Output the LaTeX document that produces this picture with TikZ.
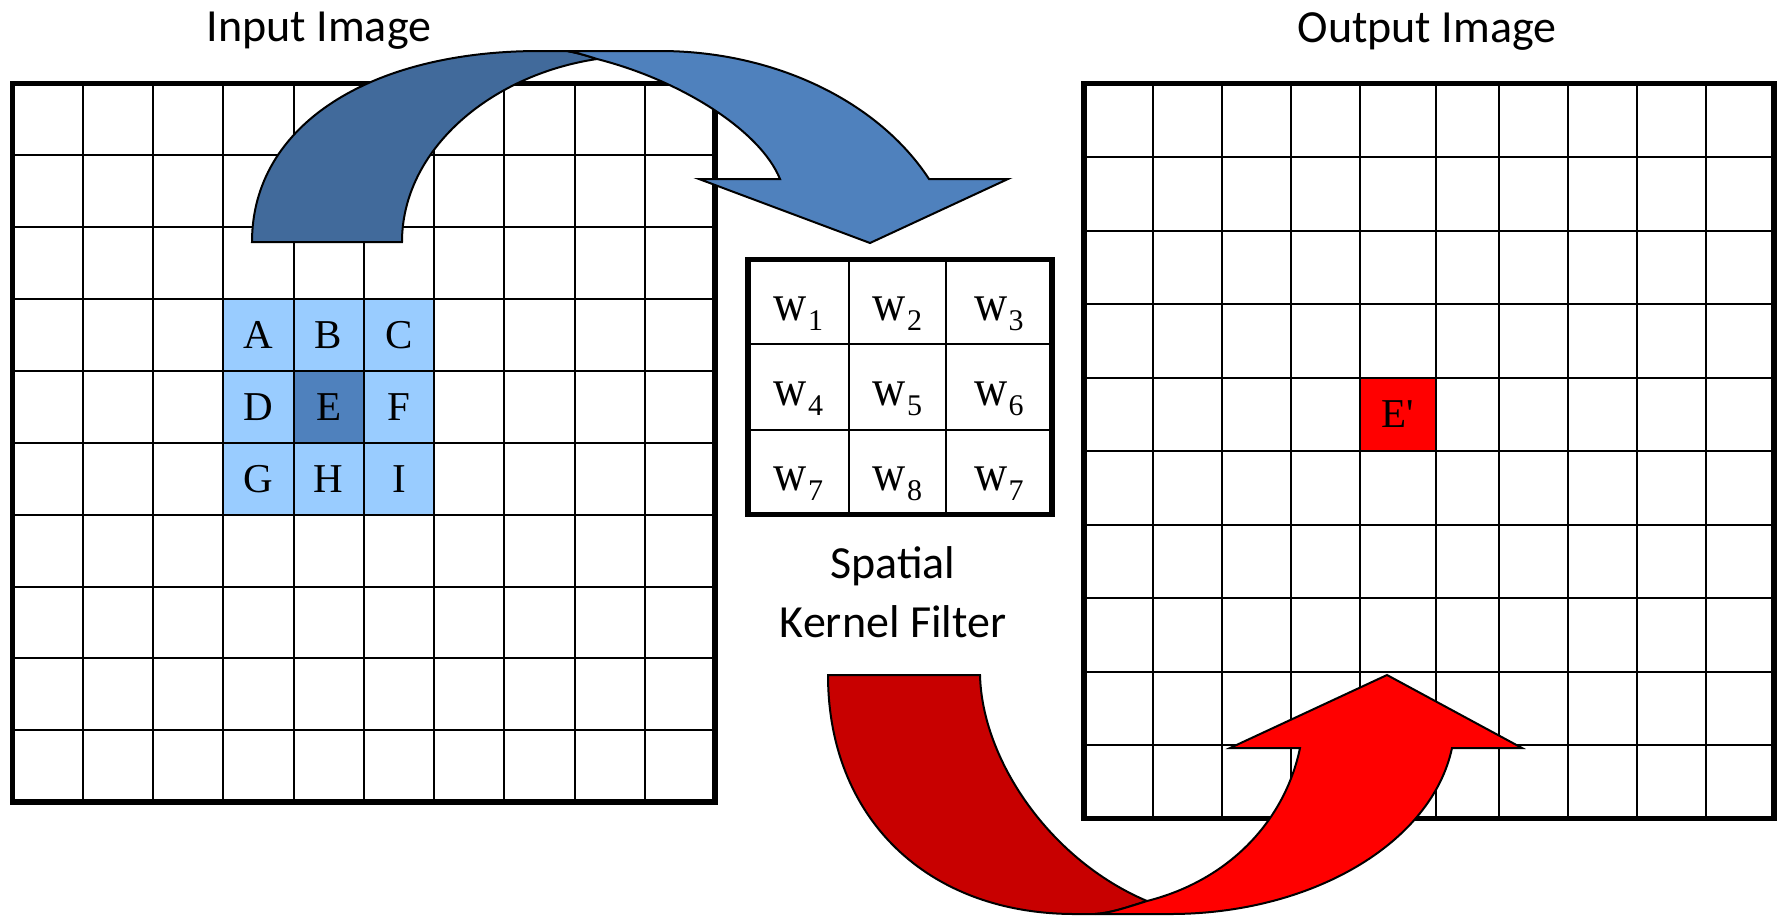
\documentclass[tikz,border=0pt]{standalone}
\usepackage{fontspec}
\usepackage{graphicx}
\newfontfamily\calibri{Carlito}
\newfontfamily\tnr{Liberation Serif}
\definecolor{blueDark}{HTML}{416A9B}
\definecolor{blueLight}{HTML}{4F81BD}
\definecolor{cellBlue}{HTML}{99CCFF}
\definecolor{redDark}{HTML}{C80000}
\definecolor{redLight}{HTML}{FF0000}
\newcommand\wsub[1]{\scalebox{1}[1.12]{w}\kern1pt\raisebox{-10pt}{\fontsize{30}{30}\selectfont #1}}
\begin{document}
\begin{tikzpicture}[x=1pt,y=-1pt,
  thingrid/.style={line width=2pt, black},
  thickborder/.style={line width=5.5pt, black},
  arrowshape/.style={draw=black, line width=2pt, line join=miter},
  letter/.style={font=\tnr\fontsize{41}{41}\selectfont, inner sep=0pt, anchor=center},
  wnode/.style={font=\tnr\fontsize{46}{46}\selectfont, inner sep=0pt, anchor=base},
  lbl/.style={font=\calibri\fontsize{46}{46}\selectfont, inner sep=0pt, anchor=base},
]
\useasboundingbox (0,0) rectangle (1779,916);
\fill[white] (0,0) rectangle (1779,916);

% ---------- input image grid ----------
\fill[cellBlue] (223.25,299) rectangle (434,514.6);
\fill[blueLight] (293.5,370.9) rectangle (363.75,442.8);
\foreach \x in {82.75,153,223.25,293.5,363.75,434,504.25,574.5,644.75}
  \draw[thingrid] (\x,83.5) -- (\x,802);
\foreach \y in {155.4,227.2,299,370.9,442.8,514.6,586.5,658.3,730.2}
  \draw[thingrid] (12.5,\y) -- (715,\y);
\draw[thickborder] (12.5,83.5) rectangle (715,802);

\node[letter] (A) at (258.4,335) {A};
\node[letter] (B) at (328.6,335) {B};
\node[letter] (C) at (398.9,335) {C};
\node[letter] (D) at (258.4,406.9) {D};
\node[letter] (E) at (328.6,406.9) {E};
\node[letter] (F) at (398.9,406.9) {F};
\node[letter] (G) at (258.4,478.7) {G};
\node[letter] (H) at (328.6,478.7) {H};
\node[letter] (I) at (398.9,478.7) {I};

% ---------- output image grid ----------
\fill[redLight] (1360,377.5) rectangle (1436,451);
\foreach \x in {1153,1222,1291,1360,1436,1499,1568,1637,1706}
  \draw[thingrid] (\x,83.5) -- (\x,818.5);
\foreach \y in {157,230.5,304,377.5,451,524.5,598,671.5,745}
  \draw[thingrid] (1084,\y) -- (1774,\y);
\draw[thickborder] (1084,83.5) rectangle (1774,818.5);
\node[letter] (Ep) at (1398,414.25) {E\XeTeXglyph\XeTeXcharglyph"27\relax};

% ---------- kernel ----------
\foreach \x in {849,946} \draw[thingrid] (\x,259.5) -- (\x,514.5);
\foreach \y in {344,430} \draw[thingrid] (748,\y) -- (1052,\y);
\draw[thickborder] (748,259.5) rectangle (1052,514.5);
\node[wnode] (w1) at (798.5,320) {\wsub{1}};
\node[wnode] (w2) at (897.5,320) {\wsub{2}};
\node[wnode] (w3) at (999,320) {\wsub{3}};
\node[wnode] (w4) at (798.5,405) {\wsub{4}};
\node[wnode] (w5) at (897.5,405) {\wsub{5}};
\node[wnode] (w6) at (999,405) {\wsub{6}};
\node[wnode] (w7) at (798.5,490) {\wsub{7}};
\node[wnode] (w8) at (897.5,490) {\wsub{8}};
\node[wnode] (w9) at (999,490) {\wsub{7}};

% ---------- labels ----------
\node[lbl] (inlbl) at (319,41) {Input Image};
\node[lbl] (outlbl) at (1427,42) {Output Image};
\node[lbl] (sp) at (893,578) {Spatial};
\node[lbl] (kf) at (893,637) {Kernel Filter};

% ---------- blue curved arrow ----------
\draw[arrowshape, fill=blueDark] (252,242) .. controls (252,125) and (370,51) .. (540,51)
  -- (567,51) .. controls (578,53) and (588,56) .. (597,59)
  .. controls (490,75) and (402,150) .. (402,242) -- cycle;
\draw[arrowshape, fill=blueLight] (567,51) -- (660,51)
  .. controls (774,51) and (878,101) .. (929,179)
  -- (1008,179) -- (870,243) -- (699,179) -- (780,179)
  .. controls (760,130) and (680,80) .. (597,59)
  .. controls (588,56) and (578,53) .. (567,51) -- cycle;

% ---------- red curved arrow ----------
\draw[arrowshape, fill=redDark] (828,675) -- (980,675)
  .. controls (982,760) and (1050,860) .. (1147,901)
  .. controls (1125,908) and (1110,913) .. (1095,914)
  -- (1075,914) .. controls (927,914) and (828,818) .. (828,675) -- cycle;
\draw[arrowshape, fill=redLight] (1147,901)
  .. controls (1125,908) and (1110,913) .. (1095,914) -- (1170,914)
  .. controls (1311.5,914) and (1431.6,843.3) .. (1452,748)
  -- (1522,748) -- (1387,675) -- (1230,748) -- (1300,748)
  .. controls (1285,820) and (1230,880) .. (1147,901) -- cycle;
\end{tikzpicture}
\end{document}
